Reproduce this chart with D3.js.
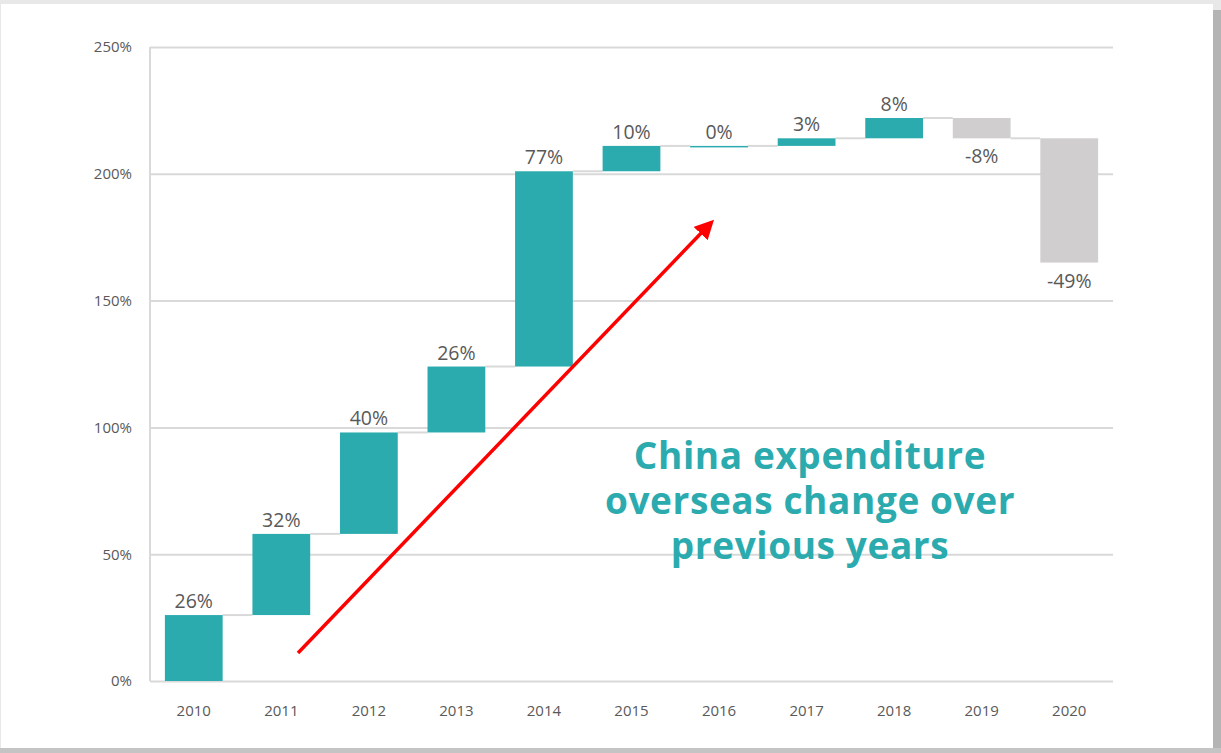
<!DOCTYPE html>
<html><head><meta charset="utf-8">
<script src="https://cdn.jsdelivr.net/npm/d3@7"></script>
<style>
html,body{margin:0;padding:0;background:#e4e4e4;}
svg{display:block;}
</style></head>
<body>
<svg id="c" width="1221" height="753"></svg>
<script>
const years = ["2010","2011","2012","2013","2014","2015","2016","2017","2018","2019","2020"];
const changes = [26, 32, 40, 26, 77, 10, 0, 3, 8, -8, -49];
const yTicks = [0, 50, 100, 150, 200, 250];
const annotationLines = ["China expenditure", "overseas change over", "previous years"];

const W = 1221, H = 753;
const svg = d3.select("#c");
const teal = "#2CABAF", grey = "#D0CECE", txt = "#595959", gridC = "#D9D9D9";

// card frame
svg.append("rect").attr("x",0).attr("y",0).attr("width",W).attr("height",H).attr("fill","#e8e8e8");
svg.append("rect").attr("x",1213).attr("y",10).attr("width",8).attr("height",743).attr("fill","#b4b4b4");
svg.append("rect").attr("x",0).attr("y",748).attr("width",1221).attr("height",5).attr("fill","#c4c4c4");
svg.append("rect").attr("x",1).attr("y",4).attr("width",1212).attr("height",744).attr("fill","#ffffff");

const m = {left:150, right:1113, top:47, bottom:681};
const x = d3.scaleBand().domain(years).range([m.left, m.right]).paddingInner(0.34).paddingOuter(0.17);
const y = d3.scaleLinear().domain([0,250]).range([m.bottom, m.top]);

// running totals
let cum = 0;
const data = years.map((yr,i)=>{ const start = cum; cum += changes[i]; return {yr, start, end: cum, v: changes[i]}; });

// grid
const gAxis = svg.append("g").attr("transform",`translate(${m.left},0)`)
  .call(d3.axisLeft(y).tickValues(yTicks).tickFormat(d=>d+"%").tickSize(-(m.right-m.left)).tickPadding(18));
gAxis.select(".domain").remove();
gAxis.selectAll(".tick line").attr("stroke",gridC).attr("stroke-width",2);
gAxis.selectAll(".tick text").attr("fill",txt).attr("font-family","Open Sans, sans-serif").attr("font-size",15);
svg.append("line").attr("x1",m.left).attr("x2",m.left).attr("y1",m.top).attr("y2",m.bottom).attr("stroke",gridC).attr("stroke-width",2);

const gx = svg.append("g").attr("transform",`translate(0,${m.bottom})`)
  .call(d3.axisBottom(x).tickSize(0).tickPadding(24));
gx.select(".domain").remove();
gx.selectAll(".tick text").attr("fill",txt).attr("font-family","Open Sans, sans-serif").attr("font-size",15);

// connectors
svg.append("g").selectAll("line").data(data.slice(0,-1)).join("line")
  .attr("x1",d=>x(d.yr)+x.bandwidth())
  .attr("x2",(d,i)=>x(years[i+1]))
  .attr("y1",d=>y(d.end)).attr("y2",d=>y(d.end))
  .attr("stroke",gridC).attr("stroke-width",2);

// bars
svg.append("g").selectAll("rect").data(data).join("rect")
  .attr("x",d=>x(d.yr)).attr("width",x.bandwidth())
  .attr("y",d=>y(Math.max(d.start,d.end)))
  .attr("height",d=>Math.max(1.5, Math.abs(y(d.start)-y(d.end))))
  .attr("fill",d=>d.v<0?grey:teal);

// labels
svg.append("g").selectAll("text").data(data).join("text")
  .attr("x",d=>x(d.yr)+x.bandwidth()/2)
  .attr("y",d=>d.v<0 ? y(Math.min(d.start,d.end))+25 : y(Math.max(d.start,d.end))-7)
  .attr("text-anchor","middle").attr("fill",txt)
  .attr("font-family","Open Sans, sans-serif").attr("font-size",19.5)
  .text(d=>d.v+"%");

// arrow annotation
const defs = svg.append("defs");
defs.append("marker").attr("id","ah").attr("viewBox","0 0 10 10").attr("refX",4).attr("refY",5)
  .attr("markerWidth",5.5).attr("markerHeight",5.5).attr("orient","auto")
  .append("path").attr("d","M0,0 L10,5 L0,10 Z").attr("fill","#FF0000");
svg.append("line").attr("x1",298).attr("y1",653).attr("x2",706).attr("y2",228)
  .attr("stroke","#FF0000").attr("stroke-width",3.5).attr("marker-end","url(#ah)");

// annotation text
svg.append("g").selectAll("text").data(annotationLines).join("text")
  .attr("x",810).attr("y",(d,i)=>469+i*45)
  .attr("text-anchor","middle").attr("fill",teal)
  .attr("font-family","Open Sans, sans-serif").attr("font-weight",700).attr("font-size",37)
  .attr("letter-spacing",0.6)
  .text(d=>d);
</script>
</body></html>
